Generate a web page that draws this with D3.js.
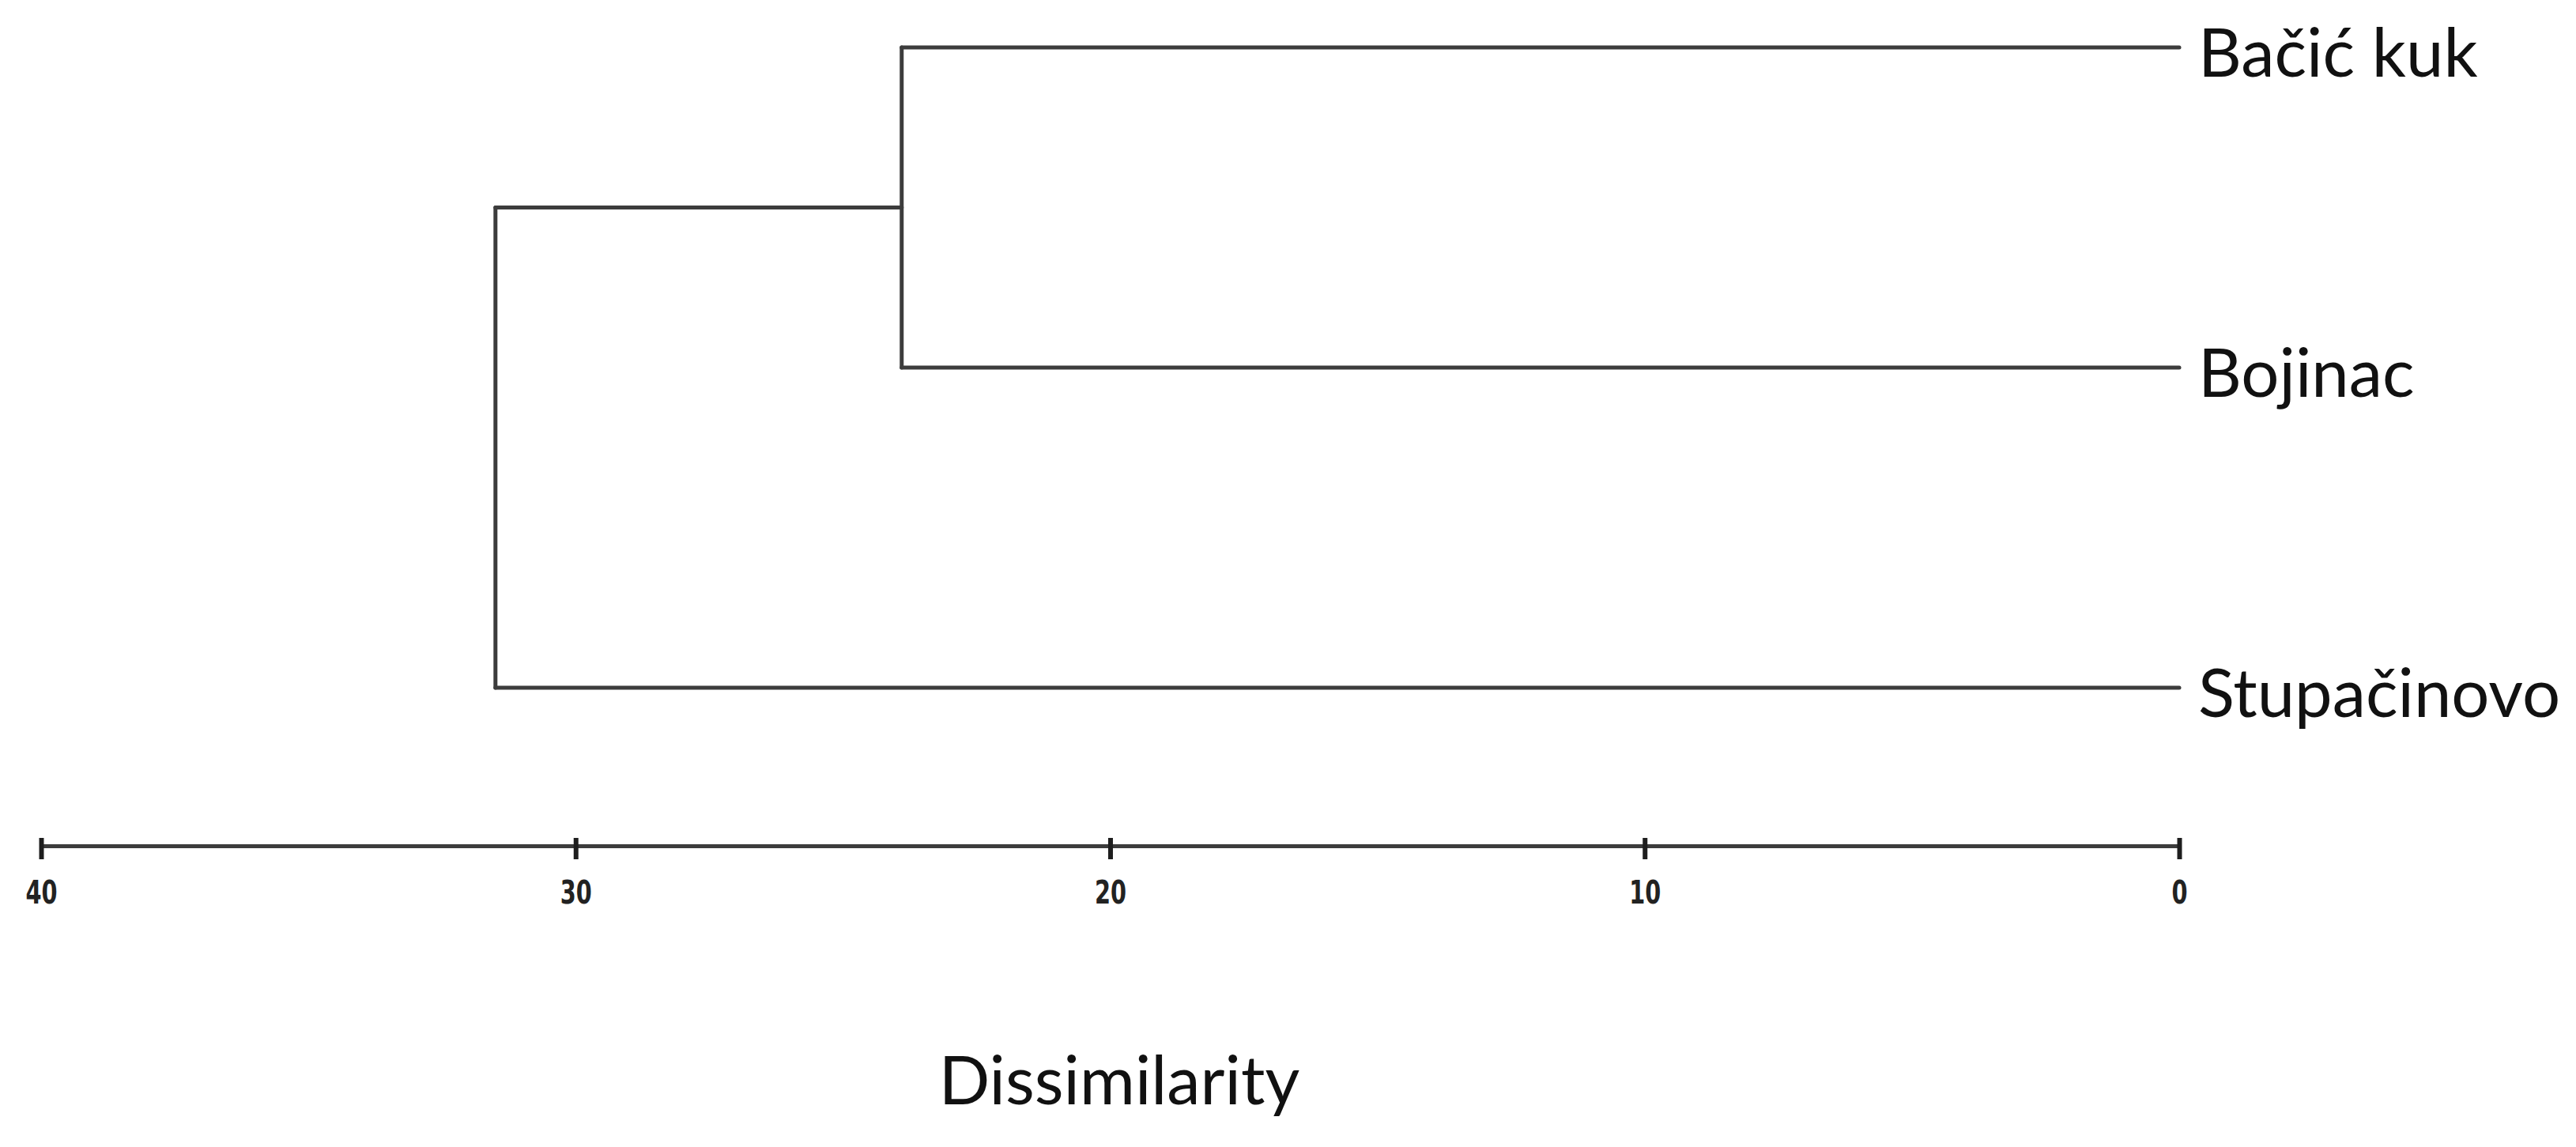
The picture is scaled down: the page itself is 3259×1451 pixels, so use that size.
<!DOCTYPE html>
<html>
<head>
<meta charset="utf-8">
<script src="https://cdn.jsdelivr.net/npm/d3@7"></script>
<style>
  html, body { margin: 0; padding: 0; background: #fff; }
  svg { display: block; }
</style>
</head>
<body>
<svg id="chart" width="3259" height="1451"></svg>
<script>
// ---- data ----
const leaves = ["Bačić kuk", "Bojinac", "Stupačinovo"];
const merges = [
  { name: "m1", children: ["Bačić kuk", "Bojinac"], height: 23.9 },
  { name: "root", children: ["m1", "Stupačinovo"], height: 31.5 }
];
const tickValues = [40, 30, 20, 10, 0];
const axisTitle = "Dissimilarity";

// ---- build hierarchy ----
const nodeMap = {};
leaves.forEach(l => nodeMap[l] = { name: l, height: 0 });
merges.forEach(m => {
  nodeMap[m.name] = { name: m.name, height: m.height, children: m.children.map(c => nodeMap[c]) };
});
const root = d3.hierarchy(nodeMap["root"]);

// ---- scales ----
const x = d3.scaleLinear().domain([40, 0]).range([52, 2757]);
const y = d3.scalePoint().domain(leaves).range([60, 870]);

root.eachAfter(n => {
  if (!n.children) n.py = y(n.data.name);
  else n.py = d3.mean(n.children, c => c.py);
  n.px = x(n.data.height);
});

const svg = d3.select("#chart");
const lineColor = "#3c3c3c";

const g = svg.append("g");
const links = [];
root.each(n => {
  if (n.children) {
    const ys = n.children.map(c => c.py);
    links.push(`M${n.px},${d3.min(ys)}V${d3.max(ys)}`);
    n.children.forEach(c => links.push(`M${n.px},${c.py}H${c.px}`));
  }
});
g.selectAll("path.link").data(links).join("path")
  .attr("class", "link")
  .attr("d", d => d)
  .attr("fill", "none")
  .attr("stroke", lineColor)
  .attr("stroke-width", 5)
  .attr("stroke-linejoin", "round")
  .attr("stroke-linecap", "round");

// leaf labels
g.selectAll("text.leaf").data(root.leaves()).join("text")
  .attr("class", "leaf")
  .attr("x", d => d.px + 24)
  .attr("y", d => d.py + 37)
  .attr("font-family", "Lato, 'Open Sans', sans-serif")
  .attr("font-size", 85)
  .attr("fill", "#111")
  .text(d => d.data.name);

// axis
const axisY = 1070;
const axis = d3.axisBottom(x).tickValues(tickValues).tickSize(17).tickSizeOuter(0).tickPadding(28)
  .tickFormat(d3.format("d"));
const ag = svg.append("g").attr("transform", `translate(0,${axisY})`).call(axis);
ag.select(".domain").attr("stroke", lineColor).attr("stroke-width", 5);
ag.selectAll(".tick line").attr("y1", -10).attr("stroke", "#1e1e1e").attr("stroke-width", 6);
ag.selectAll(".tick text")
  .attr("font-family", "'Liberation Sans Narrow', 'DejaVu Sans Condensed', sans-serif")
  .attr("font-weight", "bold")
  .attr("font-size", 40)
  .attr("fill", "#222")
  .attr("transform", "scale(0.8,1)");

// axis title
svg.append("text")
  .attr("x", 1416)
  .attr("y", 1397)
  .attr("text-anchor", "middle")
  .attr("font-family", "Lato, 'Open Sans', sans-serif")
  .attr("font-size", 85)
  .attr("fill", "#111")
  .text(axisTitle);
</script>
</body>
</html>
